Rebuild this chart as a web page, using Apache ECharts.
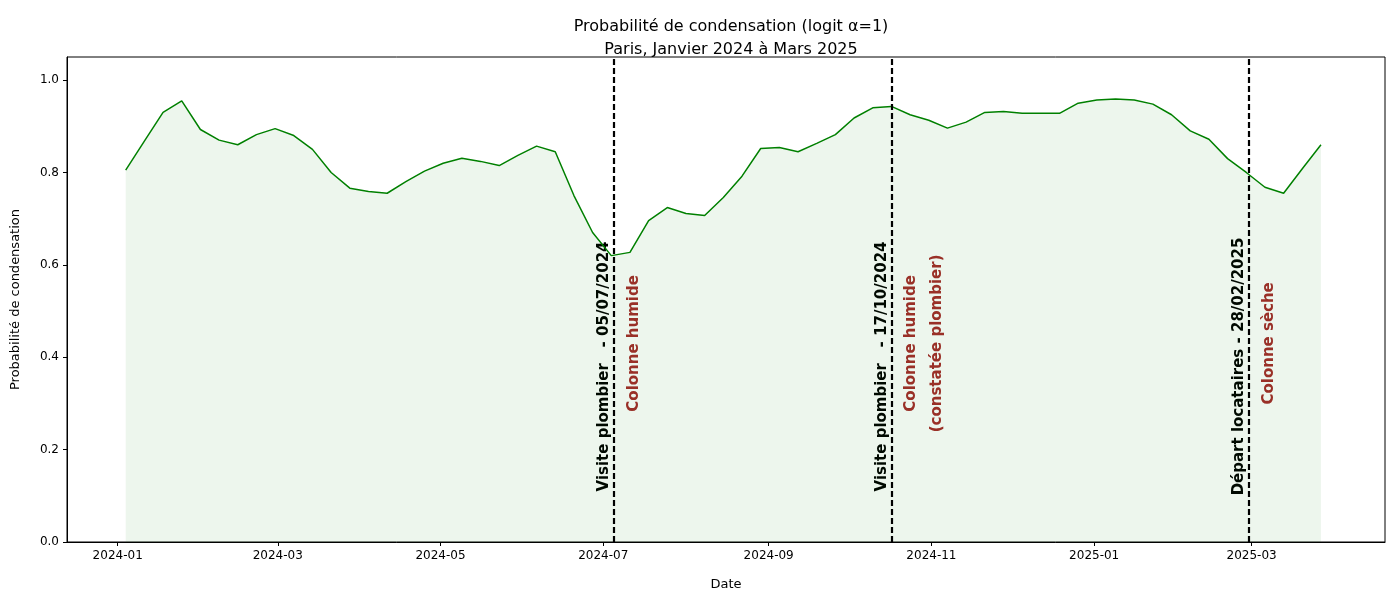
<!DOCTYPE html>
<html>
<head>
<meta charset="utf-8">
<script src="https://cdn.jsdelivr.net/npm/echarts@6/dist/echarts.min.js"></script>
<style>html,body{margin:0;background:#fff}#c{width:1400px;height:600px}</style>
</head>
<body>
<div id="c"></div>
<script>
// weekly points, first one 2024-01-04
const startDate = '2024-01-04'
const probValues = [
  0.805, 0.868, 0.93, 0.955, 0.893, 0.87, 0.86, 0.882, 0.895, 0.88,
  0.85, 0.80, 0.766, 0.759, 0.755, 0.78, 0.803, 0.82, 0.831, 0.824,
  0.815, 0.837, 0.857, 0.845, 0.75, 0.67, 0.62, 0.627, 0.696, 0.724,
  0.711, 0.707, 0.746, 0.792, 0.852, 0.854, 0.845, 0.863, 0.882, 0.918,
  0.94, 0.943, 0.925, 0.913, 0.896, 0.909, 0.93, 0.932, 0.928, 0.928,
  0.928, 0.95, 0.957, 0.959, 0.957, 0.948, 0.925, 0.89, 0.872, 0.83,
  0.80, 0.768, 0.755, 0.808, 0.86
]
const tickDates = ['2024-01-01', '2024-03-01', '2024-05-01', '2024-07-01', '2024-09-01', '2024-11-01', '2025-01-01', '2025-03-01']
const eventDates = ['2024-07-05', '2024-10-17', '2025-02-28']
const eventLabels = ['Visite plombier   - 05/07/2024', 'Visite plombier   - 17/10/2024', 'Départ locataires - 28/02/2025']
const stateLabels = ['Colonne humide', 'Colonne humide\n(constatée plombier)', 'Colonne sèche']

const DAY = 86400000
const t0 = Date.parse(startDate + 'T00:00:00Z')
const seriesData = probValues.map((v, i) => [t0 + i * 7 * DAY, v])
const ts = d => Date.parse(d + 'T00:00:00Z')

const chart = echarts.init(document.getElementById('c'))
chart.setOption({
  animation: false,
  textStyle: { fontFamily: 'DejaVu Sans' },
  title: {
    text: 'Probabilité de condensation (logit α=1)\nParis, Janvier 2024 à Mars 2025',
    left: 726, top: 10, textAlign: 'center',
    textStyle: { fontSize: 16, fontWeight: 'normal', color: '#000', lineHeight: 23 }
  },
  grid: { left: 67, right: 15, top: 57, bottom: 58, show: true, borderColor: '#000', borderWidth: 1 },
  xAxis: {
    type: 'value', min: ts('2023-12-13'), max: ts('2025-04-20'),
    name: 'Date', nameLocation: 'middle', nameGap: 36, nameTextStyle: { color: '#000', fontSize: 13 },
    axisLine: { lineStyle: { color: '#000' } },
    axisTick: { customValues: tickDates.map(ts), length: 4, lineStyle: { color: '#000' } },
    axisLabel: {
      customValues: tickDates.map(ts), color: '#000', fontSize: 12,
      formatter: v => { const d = new Date(v); return d.getUTCFullYear() + '-' + String(d.getUTCMonth() + 1).padStart(2, '0') }
    },
    splitLine: { show: false }
  },
  yAxis: {
    type: 'value', min: 0, max: 1.05, interval: 0.2,
    name: 'Probabilité de condensation', nameLocation: 'middle', nameGap: 45,
    nameTextStyle: { color: '#000', fontSize: 13 },
    axisLine: { show: true, lineStyle: { color: '#000' } },
    axisTick: { show: true, length: 4, lineStyle: { color: '#000' } },
    axisLabel: { color: '#000', fontSize: 12, formatter: v => v.toFixed(1), showMaxLabel: false },
    splitLine: { show: false }
  },
  series: [{
    type: 'line', data: seriesData, symbol: 'none',
    lineStyle: { color: 'green', width: 1.5 },
    areaStyle: { color: 'rgba(0,128,0,0.1)' },
    markLine: {
      silent: true, symbol: 'none', label: { show: false },
      lineStyle: { color: '#000', type: [6, 3], width: 2.2 },
      data: eventDates.map(d => ({ xAxis: ts(d) }))
    }
  }]
})

// rotated annotations anchored on data coordinates
const graphics = []
eventDates.forEach((d, i) => {
  const pb = chart.convertToPixel({ seriesIndex: 0 }, [ts(d), 0.38])
  const pr = chart.convertToPixel({ seriesIndex: 0 }, [ts(d), 0.43])
  graphics.push({
    type: 'text', x: pb[0] - 2, y: pb[1], rotation: Math.PI / 2,
    style: { text: eventLabels[i], fill: '#000', font: 'bold 15px DejaVu Sans', align: 'center', verticalAlign: 'bottom' }
  })
  graphics.push({
    type: 'text', x: pr[0] + 7, y: pr[1], rotation: Math.PI / 2,
    style: { text: stateLabels[i], fill: '#a52a2a', font: 'bold 15px DejaVu Sans', align: 'center', verticalAlign: 'top', lineHeight: 26 }
  })
})
chart.setOption({ graphic: graphics })
</script>
</body>
</html>
